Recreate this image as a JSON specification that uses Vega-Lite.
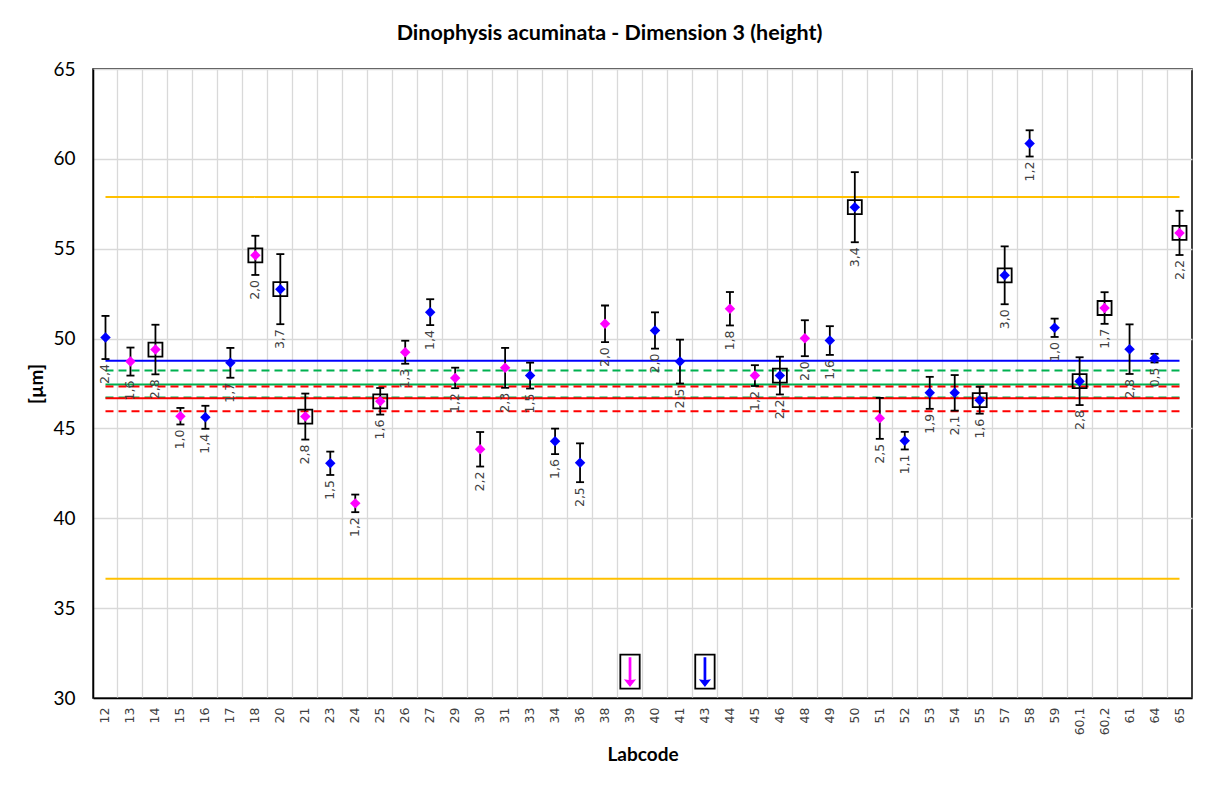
{
  "$schema": "https://vega.github.io/schema/vega-lite/v6.json",
  "width": 1099,
  "height": 629,
  "autosize": {"type": "none"},
  "padding": {"left": 93, "top": 69, "right": 16, "bottom": 87},
  "background": "white",
  "title": {"text": "Dinophysis acuminata - Dimension 3 (height)", "font": "Lato", "fontSize": 21.5, "fontWeight": "bold", "color": "#000000", "anchor": "middle", "dx": -33, "offset": 16},
  "config": {
    "view": {"stroke": "#000000", "strokeWidth": 1.5}
  },
  "datasets": {
    "points": [
      {"lab": "12", "v": 50.06, "lo": 48.86, "hi": 51.26, "cv": "2,4", "grp": "b", "sq": 0},
      {"lab": "13", "v": 48.72, "lo": 47.94, "hi": 49.50, "cv": "1,6", "grp": "m", "sq": 0},
      {"lab": "14", "v": 49.39, "lo": 48.01, "hi": 50.77, "cv": "2,8", "grp": "m", "sq": 1},
      {"lab": "15", "v": 45.68, "lo": 45.22, "hi": 46.14, "cv": "1,0", "grp": "m", "sq": 0},
      {"lab": "16", "v": 45.62, "lo": 44.98, "hi": 46.26, "cv": "1,4", "grp": "b", "sq": 0},
      {"lab": "17", "v": 48.65, "lo": 47.82, "hi": 49.48, "cv": "1,7", "grp": "b", "sq": 0},
      {"lab": "18", "v": 54.63, "lo": 53.54, "hi": 55.72, "cv": "2,0", "grp": "m", "sq": 1},
      {"lab": "20", "v": 52.75, "lo": 50.80, "hi": 54.70, "cv": "3,7", "grp": "b", "sq": 1},
      {"lab": "21", "v": 45.66, "lo": 44.38, "hi": 46.94, "cv": "2,8", "grp": "m", "sq": 1},
      {"lab": "23", "v": 43.06, "lo": 42.41, "hi": 43.71, "cv": "1,5", "grp": "b", "sq": 0},
      {"lab": "24", "v": 40.83, "lo": 40.34, "hi": 41.32, "cv": "1,2", "grp": "m", "sq": 0},
      {"lab": "25", "v": 46.51, "lo": 45.77, "hi": 47.25, "cv": "1,6", "grp": "m", "sq": 1},
      {"lab": "26", "v": 49.24, "lo": 48.60, "hi": 49.88, "cv": "1,3", "grp": "m", "sq": 0},
      {"lab": "27", "v": 51.47, "lo": 50.75, "hi": 52.19, "cv": "1,4", "grp": "b", "sq": 0},
      {"lab": "29", "v": 47.81, "lo": 47.24, "hi": 48.38, "cv": "1,2", "grp": "m", "sq": 0},
      {"lab": "30", "v": 43.84, "lo": 42.88, "hi": 44.80, "cv": "2,2", "grp": "m", "sq": 0},
      {"lab": "31", "v": 48.37, "lo": 47.26, "hi": 49.48, "cv": "2,3", "grp": "m", "sq": 0},
      {"lab": "33", "v": 47.94, "lo": 47.22, "hi": 48.66, "cv": "1,5", "grp": "b", "sq": 0},
      {"lab": "34", "v": 44.28, "lo": 43.57, "hi": 44.99, "cv": "1,6", "grp": "b", "sq": 0},
      {"lab": "36", "v": 43.09, "lo": 42.01, "hi": 44.17, "cv": "2,5", "grp": "b", "sq": 0},
      {"lab": "38", "v": 50.82, "lo": 49.80, "hi": 51.84, "cv": "2,0", "grp": "m", "sq": 0},
      {"lab": "40", "v": 50.45, "lo": 49.44, "hi": 51.46, "cv": "2,0", "grp": "b", "sq": 0},
      {"lab": "41", "v": 48.72, "lo": 47.50, "hi": 49.94, "cv": "2,5", "grp": "b", "sq": 0},
      {"lab": "44", "v": 51.66, "lo": 50.73, "hi": 52.59, "cv": "1,8", "grp": "m", "sq": 0},
      {"lab": "45", "v": 47.94, "lo": 47.36, "hi": 48.52, "cv": "1,2", "grp": "m", "sq": 0},
      {"lab": "46", "v": 47.94, "lo": 46.89, "hi": 48.99, "cv": "2,2", "grp": "b", "sq": 1},
      {"lab": "48", "v": 50.02, "lo": 49.02, "hi": 51.02, "cv": "2,0", "grp": "m", "sq": 0},
      {"lab": "49", "v": 49.89, "lo": 49.09, "hi": 50.69, "cv": "1,6", "grp": "b", "sq": 0},
      {"lab": "50", "v": 57.31, "lo": 55.36, "hi": 59.26, "cv": "3,4", "grp": "b", "sq": 1},
      {"lab": "51", "v": 45.56, "lo": 44.42, "hi": 46.70, "cv": "2,5", "grp": "m", "sq": 0},
      {"lab": "52", "v": 44.32, "lo": 43.83, "hi": 44.81, "cv": "1,1", "grp": "b", "sq": 0},
      {"lab": "53", "v": 46.98, "lo": 46.09, "hi": 47.87, "cv": "1,9", "grp": "b", "sq": 0},
      {"lab": "54", "v": 46.98, "lo": 45.99, "hi": 47.97, "cv": "2,1", "grp": "b", "sq": 0},
      {"lab": "55", "v": 46.57, "lo": 45.82, "hi": 47.32, "cv": "1,6", "grp": "b", "sq": 1},
      {"lab": "57", "v": 53.52, "lo": 51.91, "hi": 55.13, "cv": "3,0", "grp": "b", "sq": 1},
      {"lab": "58", "v": 60.86, "lo": 60.13, "hi": 61.59, "cv": "1,2", "grp": "b", "sq": 0},
      {"lab": "59", "v": 50.60, "lo": 50.09, "hi": 51.11, "cv": "1,0", "grp": "b", "sq": 0},
      {"lab": "60,1", "v": 47.63, "lo": 46.30, "hi": 48.96, "cv": "2,8", "grp": "b", "sq": 1},
      {"lab": "60,2", "v": 51.70, "lo": 50.82, "hi": 52.58, "cv": "1,7", "grp": "m", "sq": 1},
      {"lab": "61", "v": 49.41, "lo": 48.03, "hi": 50.79, "cv": "2,8", "grp": "b", "sq": 0},
      {"lab": "64", "v": 48.91, "lo": 48.67, "hi": 49.15, "cv": "0,5", "grp": "b", "sq": 0},
      {"lab": "65", "v": 55.88, "lo": 54.65, "hi": 57.11, "cv": "2,2", "grp": "m", "sq": 1}
    ],
    "refs": [
      {"lab": "12", "v": 57.88, "s": "upper"}, {"lab": "65", "v": 57.88, "s": "upper"},
      {"lab": "12", "v": 36.63, "s": "lower"}, {"lab": "65", "v": 36.63, "s": "lower"},
      {"lab": "12", "v": 48.76, "s": "mean"}, {"lab": "65", "v": 48.76, "s": "mean"},
      {"lab": "12", "v": 48.22, "s": "ghi"}, {"lab": "65", "v": 48.22, "s": "ghi"},
      {"lab": "12", "v": 47.44, "s": "gmid"}, {"lab": "65", "v": 47.44, "s": "gmid"},
      {"lab": "12", "v": 46.72, "s": "glo"}, {"lab": "65", "v": 46.72, "s": "glo"},
      {"lab": "12", "v": 47.33, "s": "rhi"}, {"lab": "65", "v": 47.33, "s": "rhi"},
      {"lab": "12", "v": 46.68, "s": "rmid"}, {"lab": "65", "v": 46.68, "s": "rmid"},
      {"lab": "12", "v": 45.95, "s": "rlo"}, {"lab": "65", "v": 45.95, "s": "rlo"}
    ],
    "arrows": [
      {"lab": "39", "v": 31.47, "grp": "m"},
      {"lab": "43", "v": 31.47, "grp": "b"}
    ]
  },
  "encoding": {
    "x": {
      "field": "lab", "type": "nominal", "sort": null,
      "scale": {
        "domain": ["12","13","14","15","16","17","18","20","21","23","24","25","26","27","29","30","31","33","34","36","38","39","40","41","43","44","45","46","48","49","50","51","52","53","54","55","57","58","59","60,1","60,2","61","64","65"],
        "paddingInner": 0, "paddingOuter": 0
      },
      "axis": {
        "title": "Labcode", "titleFont": "Lato", "titleFontSize": 19, "titleFontWeight": "bold", "titleColor": "#000000", "titlePadding": 11,
        "labelAngle": 270, "labelFont": "DejaVu Sans", "labelFontSize": 12.5, "labelColor": "#404040", "labelPadding": 9,
        "ticks": false, "domainColor": "#000000", "domainWidth": 1.5,
        "grid": true, "gridColor": "#d9d9d9", "gridWidth": 1.3, "bandPosition": 0
      }
    },
    "y": {
      "type": "quantitative",
      "scale": {"domain": [30, 65], "nice": false, "zero": false},
      "axis": {
        "title": "[µm]", "titleFont": "Lato", "titleFontSize": 19, "titleFontWeight": "bold", "titleColor": "#000000", "titlePadding": 6,
        "values": [30, 35, 40, 45, 50, 55, 60, 65],
        "labelFont": "Lato", "labelFontSize": 19, "labelColor": "#000000", "labelPadding": 18,
        "ticks": false, "domainColor": "#000000", "domainWidth": 1.5,
        "grid": true, "gridColor": "#d9d9d9", "gridWidth": 1.3
      }
    }
  },
  "layer": [
    {
      "data": {"name": "refs"},
      "mark": {"type": "line", "strokeWidth": 2},
      "encoding": {
        "y": {"field": "v", "type": "quantitative"},
        "stroke": {"field": "s", "type": "nominal", "legend": null,
          "scale": {"domain": ["upper","lower","mean","ghi","gmid","glo","rhi","rmid","rlo"],
                    "range": ["#ffc000","#ffc000","#0000ff","#00b050","#00b050","#00b050","#ff0000","#ff0000","#ff0000"]}},
        "strokeDash": {"field": "s", "type": "nominal", "legend": null,
          "scale": {"domain": ["upper","lower","mean","ghi","gmid","glo","rhi","rmid","rlo"],
                    "range": [[1,0],[1,0],[1,0],[8,5],[1,0],[8,5],[8,5],[1,0],[8,5]]}}
      }
    },
    {
      "data": {"name": "points"},
      "transform": [{"filter": "datum.sq == 1"}],
      "mark": {"type": "point", "shape": "square", "filled": false, "stroke": "#000000", "strokeWidth": 1.8, "size": 196, "opacity": 1},
      "encoding": {"y": {"field": "v", "type": "quantitative"}}
    },
    {
      "data": {"name": "points"},
      "mark": {"type": "rule", "stroke": "#000000", "strokeWidth": 1.8},
      "encoding": {"y": {"field": "lo", "type": "quantitative"}, "y2": {"field": "hi"}}
    },
    {
      "data": {"name": "points"},
      "mark": {"type": "tick", "color": "#000000", "size": 8, "thickness": 1.8, "opacity": 1},
      "encoding": {"y": {"field": "lo", "type": "quantitative"}}
    },
    {
      "data": {"name": "points"},
      "mark": {"type": "tick", "color": "#000000", "size": 8, "thickness": 1.8, "opacity": 1},
      "encoding": {"y": {"field": "hi", "type": "quantitative"}}
    },
    {
      "data": {"name": "points"},
      "mark": {"type": "point", "shape": "diamond", "filled": true, "size": 110, "opacity": 1, "strokeWidth": 0},
      "encoding": {
        "y": {"field": "v", "type": "quantitative"},
        "fill": {"field": "grp", "type": "nominal", "legend": null, "scale": {"domain": ["b","m"], "range": ["#0000ff","#ff00ff"]}}
      }
    },
    {
      "data": {"name": "points"},
      "mark": {"type": "text", "angle": 270, "align": "right", "baseline": "middle", "dx": -5, "font": "DejaVu Sans", "fontSize": 12.5, "color": "#404040"},
      "encoding": {
        "y": {"field": "lo", "type": "quantitative"},
        "text": {"field": "cv", "type": "nominal"}
      }
    },
    {
      "data": {"name": "arrows"},
      "mark": {"type": "point", "shape": "M-0.57,-1L0.57,-1L0.57,1L-0.57,1Z", "filled": false, "stroke": "#000000", "strokeWidth": 1.8, "size": 1156, "opacity": 1},
      "encoding": {"y": {"field": "v", "type": "quantitative"}}
    },
    {
      "data": {"name": "arrows"},
      "mark": {"type": "point", "shape": "M-0.08,-0.85L0.08,-0.85L0.08,0.5L0.36,0.45L0,0.9L-0.36,0.45L-0.08,0.5Z", "filled": true, "size": 1156, "opacity": 1, "strokeWidth": 0},
      "encoding": {
        "y": {"field": "v", "type": "quantitative"},
        "fill": {"field": "grp", "type": "nominal", "legend": null, "scale": {"domain": ["b","m"], "range": ["#0000ff","#ff00ff"]}}
      }
    }
  ]
}
